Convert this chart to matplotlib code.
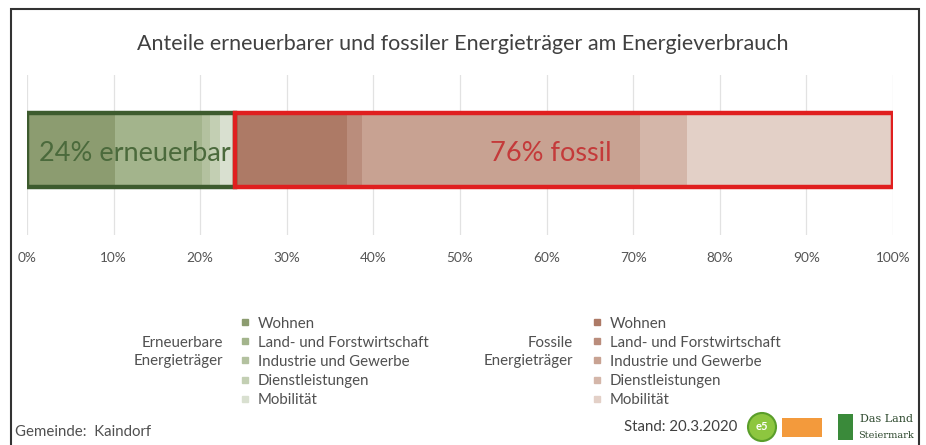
import matplotlib.pyplot as plt
from matplotlib.lines import Line2D
from matplotlib.patches import Rectangle, Ellipse
import numpy as np

plt.rcParams['font.family'] = ['Lato', 'DejaVu Sans']

# shares of total energy use, in percent
sectors = ['Wohnen', 'Land- und Forstwirtschaft', 'Industrie und Gewerbe',
           'Dienstleistungen', 'Mobilität']
renewable = [10.2, 10.0, 0.9, 1.2, 1.7]
fossil = [12.9, 1.8, 32.1, 5.4, 23.8]
ticks = [0, 10, 20, 30, 40, 50, 60, 70, 80, 90, 100]

green_cols = ['#8c9c70', '#a3b48c', '#b3c19f', '#c3cfb3', '#d9e0d0']
red_cols = ['#ad7a66', '#ba8d7c', '#c8a292', '#d4b6a9', '#e3d0c7']

fig = plt.figure(figsize=(9.26, 4.45), dpi=100)
ax = fig.add_axes([27 / 926, 1 - 235 / 445, 866 / 926, 160 / 445])

y = 0.53
h = 0.46
left = 0
for v, c in zip(renewable, green_cols):
    ax.barh(y, v, left=left, height=h, color=c, linewidth=0, zorder=2)
    left += v
for v, c in zip(fossil, red_cols):
    ax.barh(y, v, left=left, height=h, color=c, linewidth=0, zorder=2)
    left += v

ren_total = sum(renewable)
fos_total = sum(fossil)
ax.barh(y, ren_total, left=0, height=h, fill=False, edgecolor='#3d5b2e',
        linewidth=3.2, zorder=3)
ax.barh(y, fos_total, left=ren_total, height=h, fill=False, edgecolor='#e01f1f',
        linewidth=3.2, zorder=3)

ax.text(ren_total / 2 + 0.5, y - 0.02, '%d%% erneuerbar' % round(ren_total), ha='center',
        va='center', fontsize=19.5, color='#4b6a3c', zorder=4)
ax.text(ren_total + fos_total / 2 - 1.5, y - 0.02, '%d%% fossil' % round(fos_total),
        ha='center', va='center', fontsize=19.5, color='#c43a3a', zorder=4)

ax.set_xlim(0, 100)
ax.set_ylim(0, 1)
ax.set_xticks(ticks)
ax.set_xticklabels(['%d%%' % t for t in ticks], fontsize=9.8, color='#555555')
ax.tick_params(axis='x', length=0, pad=12)
ax.set_yticks([])
ax.grid(axis='x', color='#e2e2e2', linewidth=0.9, zorder=0)
for s in ax.spines.values():
    s.set_visible(False)

fig.text(0.5, 1 - 44 / 445, 'Anteile erneuerbarer und fossiler Energieträger am Energieverbrauch',
         ha='center', va='center', fontsize=15.5, color='#404040')

# legends
def legend(x_title, x_leg, title, cols):
    handles = [Line2D([], [], marker='s', linestyle='', markersize=5,
                      color=c) for c in cols]
    lg = fig.legend(handles, sectors, loc='upper left',
                    bbox_to_anchor=(x_leg / 926, 1 - 309 / 445),
                    frameon=False, fontsize=10.8, handlelength=0.6,
                    handletextpad=0.55, labelspacing=0.34, borderpad=0,
                    labelcolor='#505050')
    fig.text(x_title / 926, 1 - 352 / 445, title, ha='right', va='center',
             fontsize=10.8, color='#505050', linespacing=1.3)
    return lg

legend(223, 233, 'Erneuerbare\nEnergieträger', green_cols)
legend(573, 585, 'Fossile\nEnergieträger', red_cols)

fig.text(15 / 926, 1 - 432 / 445, 'Gemeinde:  Kaindorf', ha='left', va='center',
         fontsize=10.8, color='#505050')
fig.text(624 / 926, 1 - 427 / 445, 'Stand: 20.3.2020', ha='left', va='center',
         fontsize=10.8, color='#404040')

# little logos bottom right
fig.patches.append(Ellipse((762 / 926, 1 - 427 / 445), 28 / 926, 28 / 445,
                           transform=fig.transFigure, facecolor='#8dc63f',
                           edgecolor='#5a9e2a', lw=1.5))
fig.text(762 / 926, 1 - 427 / 445, 'e5', ha='center', va='center', fontsize=8,
         color='white', fontweight='bold')
fig.patches.append(Rectangle((782 / 926, 1 - 437 / 445), 40 / 926, 19 / 445,
                             transform=fig.transFigure, facecolor='#f39a3c',
                             edgecolor='none'))
fig.patches.append(Rectangle((838 / 926, 1 - 440 / 445), 15 / 926, 26 / 445,
                             transform=fig.transFigure, facecolor='#3a8a3a',
                             edgecolor='none'))
fig.text(860 / 926, 1 - 419 / 445, 'Das Land', ha='left', va='center', fontsize=8,
         family='DejaVu Serif', color='#2f4a2f')
fig.text(858 / 926, 1 - 435 / 445, 'Steiermark', ha='left', va='center', fontsize=7,
         family='DejaVu Serif', color='#2f4a2f')

# outer frame
fig.patches.append(Rectangle((11 / 926, -0.01), 908 / 926, 1 - 9 / 445 + 0.01,
                             transform=fig.transFigure, fill=False,
                             edgecolor='#333333', lw=1.5))

fig.savefig('out.png', dpi=100)
